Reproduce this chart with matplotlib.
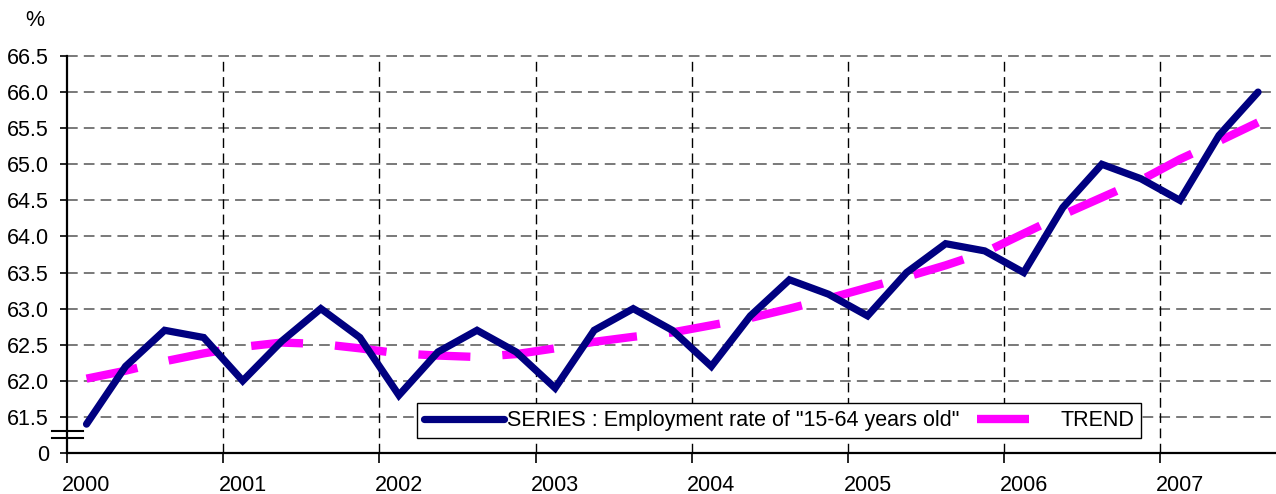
import numpy as np
import matplotlib
matplotlib.use("Agg")
import matplotlib.pyplot as plt
from matplotlib.ticker import FixedLocator, FixedFormatter

# ---- data ----
start_year = 2000
series = [61.4, 62.2, 62.7, 62.6, 62.0, 62.55, 63.0, 62.6,
          61.8, 62.4, 62.7, 62.4, 61.9, 62.7, 63.0, 62.7,
          62.2, 62.9, 63.4, 63.2, 62.9, 63.5, 63.9, 63.8,
          63.5, 64.4, 65.0, 64.8, 64.5, 65.4, 66.0]
trend = [62.03, 62.14, 62.27, 62.38, 62.47, 62.53, 62.51, 62.45,
         62.38, 62.35, 62.33, 62.37, 62.45, 62.54, 62.61, 62.67,
         62.77, 62.87, 63.00, 63.14, 63.29, 63.44, 63.60, 63.78,
         64.04, 64.30, 64.54, 64.78, 65.07, 65.32, 65.58]
year_labels = ["2000", "2001", "2002", "2003", "2004", "2005", "2006", "2007"]
y_ticks = [61.0, 61.5, 62.0, 62.5, 63.0, 63.5, 64.0, 64.5, 65.0, 65.5, 66.0, 66.5]
y_labels = ["0", "61.5", "62.0", "62.5", "63.0", "63.5", "64.0", "64.5",
            "65.0", "65.5", "66.0", "66.5"]
series_label = 'SERIES : Employment rate of "15-64 years old"'
trend_label = "TREND"

plt.rcParams['font.family'] = ['Liberation Sans', 'DejaVu Sans']
FS = 15.5

W, H = 1276, 494
fig = plt.figure(figsize=(W / 100, H / 100), dpi=100)
ax = fig.add_axes([67 / W, 1 - 453 / H, 1 - 67 / W, (453 - 56) / H])

x = start_year + (np.arange(len(series)) + 0.5) / 4.0
years = np.arange(start_year, start_year + len(year_labels))

ax.set_xlim(start_year, start_year + 7.74)
ax.set_ylim(61.0, 66.5)

# grid
for yv in y_ticks[1:]:
    ax.axhline(yv, color='#555555', lw=1.1, dashes=(7, 4), zorder=1, clip_on=False)
for xv in years[1:]:
    ax.axvline(xv, color='black', lw=1.0, dashes=(7, 4), zorder=1)

ln1, = ax.plot(x, series, color='#000080', lw=5.2, solid_capstyle='round',
               solid_joinstyle='miter', zorder=4, label=series_label)
ln2, = ax.plot(x, trend, color='#FF00FF', lw=6.0, dashes=(6.24, 3.84),
               dash_capstyle='butt', zorder=3, label=trend_label)

# spines
for s in ['top', 'right']:
    ax.spines[s].set_visible(False)
ax.spines['left'].set_linewidth(1.6)
ax.spines['bottom'].set_linewidth(1.6)

# ticks
ax.yaxis.set_major_locator(FixedLocator(y_ticks))
ax.yaxis.set_major_formatter(FixedFormatter(y_labels))
ax.tick_params(axis='y', length=5, width=1.2, pad=8, labelsize=FS)

ax.xaxis.set_major_locator(FixedLocator(years))
ax.xaxis.set_major_formatter(FixedFormatter([""] * len(years)))
ax.xaxis.set_minor_locator(FixedLocator(years + 0.125))
ax.xaxis.set_minor_formatter(FixedFormatter(year_labels))
ax.tick_params(axis='x', which='major', length=7, width=1.2)
ax.tick_params(axis='x', which='minor', length=0, pad=16, labelsize=FS)

# axis break marks
for yb in (0.0565, 0.038):
    ax.plot([-0.0124, 0.0132], [yb, yb], transform=ax.transAxes, color='black',
            lw=1.5, clip_on=False, zorder=6)

# unit label
fig.text(35 / W, 1 - 20 / H, "%", ha='center', va='center', fontsize=FS)

leg = ax.legend(handles=[ln1, ln2], loc='upper left', bbox_to_anchor=(0.2895, 0.126),
                ncol=2, frameon=True, fancybox=False, shadow=False, framealpha=1,
                edgecolor='black', fontsize=FS, handlelength=3.72,
                handletextpad=0.15, columnspacing=0.8, borderaxespad=0,
                borderpad=0.33)
leg.get_frame().set_linewidth(1.0)
leg.set_zorder(10)

fig.savefig("out.png", dpi=100)
